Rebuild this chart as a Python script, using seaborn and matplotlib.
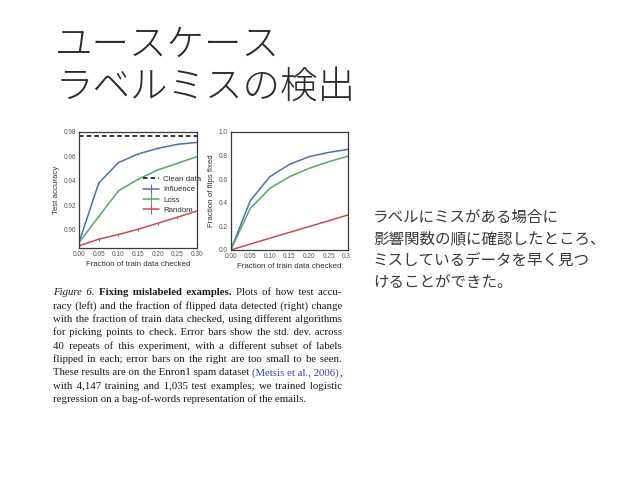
import matplotlib
matplotlib.use('Agg')
import matplotlib.pyplot as plt
import seaborn as sns
from matplotlib.lines import Line2D
from matplotlib.transforms import Bbox, TransformedBbox

# values
frac = [0.00, 0.05, 0.10, 0.15, 0.20, 0.25, 0.30]
acc_influence = [0.8897, 0.9380, 0.9548, 0.9618, 0.9664, 0.9697, 0.9713]
acc_loss = [0.8897, 0.9108, 0.9317, 0.9412, 0.9488, 0.9542, 0.9597]
acc_random = [0.8870, 0.8924, 0.8962, 0.9005, 0.9054, 0.9103, 0.9154]
err_influence = [0.0004, 0.0005, 0.0004, 0.0004, 0.0004, 0.0004, 0.0004]
err_loss = [0.0004, 0.0005, 0.0005, 0.0004, 0.0004, 0.0004, 0.0004]
err_random = [0.0011, 0.0011, 0.0011, 0.0011, 0.0011, 0.0011, 0.0011]
acc_clean = 0.9765
flips_influence = [0.0, 0.417, 0.620, 0.724, 0.789, 0.825, 0.851]
flips_loss = [0.0, 0.352, 0.521, 0.620, 0.690, 0.746, 0.794]
flips_random = [0.0, 0.050, 0.100, 0.149, 0.198, 0.247, 0.297]
acc_ticks = [0.90, 0.92, 0.94, 0.96, 0.98]
flip_ticks = [0.0, 0.2, 0.4, 0.6, 0.8, 1.0]

title_lines = ['ユースケース', 'ラベルミスの検出']
note_lines = ['ラベルにミスがある場合に',
              '影響関数の順に確認したところ、',
              'ミスしているデータを早く見つ',
              'けることができた。']
caption_lines = [
    [('Figure 6.', 'it'), ('Fixing mislabeled examples.', 'bf'), ('Plots of how test accu-', 'rm')],
    [('racy (left) and the fraction of flipped data detected (right) change', 'rm')],
    [('with the fraction of train data checked, using different algorithms', 'rm')],
    [('for picking points to check. Error bars show the std. dev. across', 'rm')],
    [('40 repeats of this experiment, with a different subset of labels', 'rm')],
    [('flipped in each; error bars on the right are too small to be seen.', 'rm')],
    [('These results are on the Enron1 spam dataset', 'rm'), ('(Metsis et al., 2006)', 'link'), (',', 'glue')],
    [('with 4,147 training and 1,035 test examples; we trained logistic', 'rm')],
    [('regression on a bag-of-words representation of the emails.', 'rm')],
]

sns.set_style('white')
plt.rcParams['font.family'] = ['Liberation Sans', 'DejaVu Sans']
pal = sns.color_palette('deep')
c_inf, c_loss, c_rand = pal[0], pal[2], pal[3]

W, H = 638, 478
fig = plt.figure(figsize=(W / 100, H / 100), dpi=100)


def px_axes(x0, y0, x1, y1):
    return fig.add_axes([x0 / W, 1 - y1 / H, (x1 - x0) / W, (y1 - y0) / H])


def style_axes(ax):
    for sp in ax.spines.values():
        sp.set_color('#3a3a3a')
        sp.set_linewidth(0.9)
    ax.tick_params(length=0, pad=2, labelsize=4.7, labelcolor='#555555')
    ax.set_xlim(0, 0.30)
    ax.set_xticks(frac)
    ax.set_xticklabels([f'{v:.2f}' for v in frac])
    ax.set_xlabel('Fraction of train data checked', fontsize=5.7, color='#333333', labelpad=2)


# left panel: test accuracy
ax1 = px_axes(79, 131.7, 197, 248.3)
ax1.axhline(acc_clean, color='black', ls='--', lw=1.1, dashes=(3, 2))
ax1.errorbar(frac, acc_influence, yerr=err_influence, color=c_inf, lw=1.1, elinewidth=0.8)
ax1.errorbar(frac, acc_loss, yerr=err_loss, color=c_loss, lw=1.1, elinewidth=0.8)
ax1.errorbar(frac, acc_random, yerr=err_random, color=c_rand, lw=1.1, elinewidth=0.8)
ax1.set_ylim(0.885, 0.98)
ax1.set_yticks(acc_ticks)
ax1.set_yticklabels([f'{v:.2f}' for v in acc_ticks])
ax1.set_ylabel('Test accuracy', fontsize=5.7, color='#333333', labelpad=3)
style_axes(ax1)

h_clean = Line2D([], [], color='black', ls='--', lw=1.1, dashes=(3, 2))
h_inf = Line2D([], [], color=c_inf, lw=1.1, marker='|', markersize=7, markeredgewidth=0.8)
h_loss = Line2D([], [], color=c_loss, lw=1.1, marker='|', markersize=7, markeredgewidth=0.8)
h_rand = Line2D([], [], color=c_rand, lw=1.1, marker='|', markersize=7, markeredgewidth=0.8)
leg = ax1.legend([h_clean, h_inf, h_loss, h_rand], ['Clean data', 'Influence', 'Loss', 'Random'],
                 loc='upper left', bbox_to_anchor=(0.545, 0.625), frameon=False,
                 fontsize=5.7, handlelength=2.0, handletextpad=0.5, labelspacing=0.35,
                 borderpad=0, borderaxespad=0)
for t in leg.get_texts():
    t.set_color('#333333')

# right panel: fraction of flips fixed
ax2 = px_axes(230.7, 131.7, 348.3, 250)
sns.lineplot(x=frac, y=flips_influence, color=c_inf, lw=1.1, ax=ax2)
sns.lineplot(x=frac, y=flips_loss, color=c_loss, lw=1.1, ax=ax2)
sns.lineplot(x=frac, y=flips_random, color=c_rand, lw=1.1, ax=ax2)
ax2.set_ylim(0, 1.0)
ax2.set_yticks(flip_ticks)
ax2.set_yticklabels([f'{v:.1f}' for v in flip_ticks])
ax2.set_ylabel('Fraction of flips fixed', fontsize=5.7, color='#333333', labelpad=3)
style_axes(ax2)
# the source picture is cropped just right of the right panel
clip = TransformedBbox(Bbox([[0, 0], [350.5 / W, 1]]), fig.transFigure)
for lbl in ax2.get_xticklabels():
    lbl.set_clip_box(clip)
    lbl.set_clip_on(True)

# slide title and note
for i, s in enumerate(title_lines):
    fig.text(55 / W, 1 - (45 + 42 * i) / H, s, family=['Noto Sans CJK JP', 'DejaVu Sans'],
             fontsize=27, weight='light', color='#2a2a2a', va='center', ha='left')
for i, s in enumerate(note_lines):
    fig.text(373 / W, 1 - (217 + 21.7 * i) / H, s, family=['Noto Sans CJK JP', 'DejaVu Sans'],
             fontsize=11.2, color='#3a3a3a', va='center', ha='left')

# caption, justified between two edges like the paper
renderer = fig.canvas.get_renderer()
base = {'family': ['Liberation Serif', 'DejaVu Serif'], 'color': '#1a1a1a'}
styles = {'rm': dict(base), 'it': dict(base, style='italic'), 'bf': dict(base, weight='bold'),
          'link': dict(base, color='#2b4c9c'), 'glue': dict(base)}
cap_left, cap_right, cap_top, cap_step = 53, 342, 295, 13.4
HAIR = '\u200a'


def words_of(line):
    out = []
    for text, key in line:
        if key == 'glue':
            out.append((text, key))
            continue
        for w in text.split():
            out.append((w, key))
    return out


def width(s, key, size):
    t = fig.text(0, 0, s, fontsize=size, **styles[key])
    w = t.get_window_extent(renderer).width
    t.remove()
    return w


def gap_units(key, size):
    a = width('a', key, size)
    return width('a a', key, size) - 2 * a, width('a' + HAIR + 'a', key, size) - 2 * a


def line_width(line, size):
    words = words_of(line)
    sp, _ = gap_units('rm', size)
    gaps = sum(1 for w, k in words[1:] if k != 'glue')
    return sum(width(w, k, size) for w, k in words) + sp * gaps


size = 7.6
longest = max(line_width(l, size) for l in caption_lines)
size = size * (cap_right - cap_left) / longest * 0.985

for i, line in enumerate(caption_lines):
    words = words_of(line)
    ws = [width(w, k, size) for w, k in words]
    gaps = sum(1 for w, k in words[1:] if k != 'glue')
    if i < len(caption_lines) - 1 and gaps:
        gap = (cap_right - cap_left - sum(ws)) / gaps
    else:
        gap = gap_units('rm', size)[0]
    # ideal start of each word
    pos, x = [], cap_left
    for j, (w, k) in enumerate(words):
        if j > 0 and k != 'glue':
            x += gap
        pos.append(x)
        x += ws[j]
    # consecutive words of one style share one text object
    segs = []
    for j, (w, k) in enumerate(words):
        if segs and segs[-1][0] == k and k != 'glue':
            segs[-1][1].append(j)
        else:
            segs.append((k, [j]))
    y = 1 - (cap_top + cap_step * i) / H
    for k, idx in segs:
        sp, hp = gap_units(k, size)
        x0 = pos[idx[0]]
        s = words[idx[0]][0]
        for j in idx[1:]:
            need = pos[j] - (x0 + width(s, k, size))
            best = None
            for n_sp in (0, 1, 2):
                n_h = max(0, round((need - n_sp * sp) / hp)) if hp > 0.05 else 0
                err = abs(need - n_sp * sp - n_h * hp)
                if best is None or err < best[0] - 0.05 or (abs(err - best[0]) <= 0.05 and n_sp == 1):
                    best = (err, n_sp, n_h)
            s += ' ' * best[1] + HAIR * best[2] + words[j][0]
        fig.text(x0 / W, y, s, fontsize=size, va='baseline', ha='left', **styles[k])

fig.savefig('out.png', dpi=100)
